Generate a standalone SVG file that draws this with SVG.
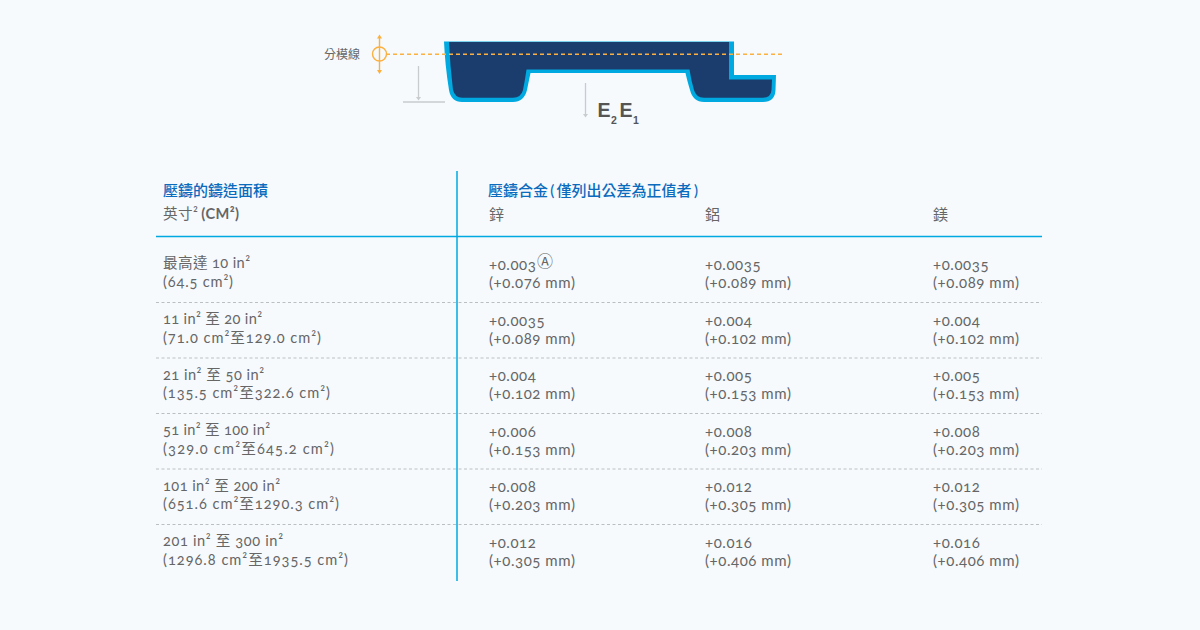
<svg xmlns="http://www.w3.org/2000/svg" width="1200" height="630" viewBox="0 0 1200 630">
<style>
text{font-family:"Lato","Noto Sans CJK TC",sans-serif;font-size:15px;fill:#666;font-variant-numeric:oldstyle-nums;letter-spacing:.56px}
.l{font-size:14.600px;letter-spacing:0}
.h{font-weight:500;fill:#0b6bbd;font-size:15px;letter-spacing:0;word-spacing:-1.500px}
.z{font-size:15px}
.cm{stroke:#fbb040;stroke-width:1.400;fill:none}
.gr{stroke:#c9cbcd;stroke-width:1.300;fill:none}
.dash{stroke:#bcbfc2;stroke-width:1;stroke-dasharray:3 2.500}
.e{font-family:"Liberation Sans",sans-serif;font-weight:700;font-size:19.500px;fill:#555;letter-spacing:0}
.s{font-family:"Liberation Sans",sans-serif;font-weight:700;font-size:10.500px;fill:#555;letter-spacing:0}
</style>
<rect width="1200" height="630" fill="#f6fafd"/>
<g id="die-section">
<path d="M444 41.500H734V75H776L775.500 90Q775 102 763 102H704Q693 102 690 90Q687 80 685.500 73H530.500Q529 80 527 90Q524 102 513 102H462Q451 102 449 90Q445 65 444 41.500Z" fill="#00a9e0"/>
<path d="M449 42H729V79.500H772L771.500 90Q771 97.700 763 97.700H704Q696 97.700 694 90Q691 80 689.500 69.500H526.500Q525 80 523 90Q521 97.700 513 97.700H462Q455 97.700 453 90Q450 65 449 42Z" fill="#1b3d6d"/>
</g>
<g id="parting-line">
<line class="cm" x1="386" y1="54.200" x2="784" y2="54.200" stroke-dasharray="4 3" style="stroke-width:1.600"/>
<circle class="cm" cx="379.500" cy="54" r="7"/>
<line class="cm" x1="379.500" y1="37" x2="379.500" y2="72"/>
<path d="M379.500 34.500L382 38.500H377ZM379.500 74L382 70H377Z" fill="#fbb040"/>
<text x="324" y="59" style="font-size:12px;letter-spacing:0">分模線</text>
</g>
<g id="dimension-e">
<line class="gr" x1="418.500" y1="66" x2="418.500" y2="98"/>
<path d="M418.500 100.500L421 97H416Z" fill="#c9cbcd"/>
<line class="gr" x1="403" y1="102" x2="445" y2="102"/>
<line class="gr" x1="585.500" y1="83" x2="585.500" y2="115"/>
<path d="M585.500 117.500L588 114H583Z" fill="#c9cbcd"/>
<text class="e" x="597.500" y="116.800">E</text><text class="s" x="611" y="124">2</text>
<text class="e" x="619.500" y="116.800">E</text><text class="s" x="633" y="124">1</text>
</g>
<g id="table-lines">
<line x1="457" y1="171" x2="457" y2="581" stroke="#00a9e0" stroke-width="1.500"/>
<line x1="156" y1="236.500" x2="1042" y2="236.500" stroke="#00a9e0" stroke-width="1.500"/>
<line class="dash" x1="156" y1="302.500" x2="1042" y2="302.500"/>
<line class="dash" x1="156" y1="358" x2="1042" y2="358"/>
<line class="dash" x1="156" y1="413.500" x2="1042" y2="413.500"/>
<line class="dash" x1="156" y1="469" x2="1042" y2="469"/>
<line class="dash" x1="156" y1="524.500" x2="1042" y2="524.500"/>
</g>
<g id="header">
<text class="h" x="163" y="196">壓鑄的鑄造面積</text>
<text x="163" y="219" class="l" style="letter-spacing:.35px">英寸² <tspan font-weight="700" dx="-1">(CM²)</tspan></text>
<text class="h" x="488" y="196">壓鑄合金 ( 僅列出公差為正值者 )</text>
<text x="489" y="220" class="z">鋅</text>
<text x="705" y="220" class="z">鋁</text>
<text x="933" y="220" class="z">鎂</text>
</g>
<g id="row-1">
<text class="l" x="163" y="268" textLength="87">最高達 10 in²</text><text class="l" x="163" y="287" textLength="70">(64.5 cm²)</text>
<text x="489" y="270">+0.003</text><text x="537" y="267" style="font-size:16px;letter-spacing:0">Ⓐ</text><text x="489" y="288">(+0.076 mm)</text>
<text x="705" y="270">+0.0035</text><text x="705" y="288">(+0.089 mm)</text>
<text x="933" y="270">+0.0035</text><text x="933" y="288">(+0.089 mm)</text>
</g>
<g id="row-2">
<text class="l" x="163" y="324" textLength="99">11 in² 至 20 in²</text><text class="l" x="163" y="343" textLength="158">(71.0 cm²至129.0 cm²)</text>
<text x="489" y="326">+0.0035</text><text x="489" y="344">(+0.089 mm)</text>
<text x="705" y="326">+0.004</text><text x="705" y="344">(+0.102 mm)</text>
<text x="933" y="326">+0.004</text><text x="933" y="344">(+0.102 mm)</text>
</g>
<g id="row-3">
<text class="l" x="163" y="380" textLength="101">21 in² 至 50 in²</text><text class="l" x="163" y="398" textLength="167">(135.5 cm²至322.6 cm²)</text>
<text x="489" y="381">+0.004</text><text x="489" y="399">(+0.102 mm)</text>
<text x="705" y="381">+0.005</text><text x="705" y="399">(+0.153 mm)</text>
<text x="933" y="381">+0.005</text><text x="933" y="399">(+0.153 mm)</text>
</g>
<g id="row-4">
<text class="l" x="163" y="435" textLength="107">51 in² 至 100 in²</text><text class="l" x="163" y="454" textLength="171">(329.0 cm²至645.2 cm²)</text>
<text x="489" y="437">+0.006</text><text x="489" y="455">(+0.153 mm)</text>
<text x="705" y="437">+0.008</text><text x="705" y="455">(+0.203 mm)</text>
<text x="933" y="437">+0.008</text><text x="933" y="455">(+0.203 mm)</text>
</g>
<g id="row-5">
<text class="l" x="163" y="491" textLength="117">101 in² 至 200 in²</text><text class="l" x="163" y="509" textLength="176">(651.6 cm²至1290.3 cm²)</text>
<text x="489" y="492">+0.008</text><text x="489" y="510">(+0.203 mm)</text>
<text x="705" y="492">+0.012</text><text x="705" y="510">(+0.305 mm)</text>
<text x="933" y="492">+0.012</text><text x="933" y="510">(+0.305 mm)</text>
</g>
<g id="row-6">
<text class="l" x="163" y="546" textLength="120">201 in² 至 300 in²</text><text class="l" x="163" y="565" textLength="185">(1296.8 cm²至1935.5 cm²)</text>
<text x="489" y="548">+0.012</text><text x="489" y="566">(+0.305 mm)</text>
<text x="705" y="548">+0.016</text><text x="705" y="566">(+0.406 mm)</text>
<text x="933" y="548">+0.016</text><text x="933" y="566">(+0.406 mm)</text>
</g>
</svg>
